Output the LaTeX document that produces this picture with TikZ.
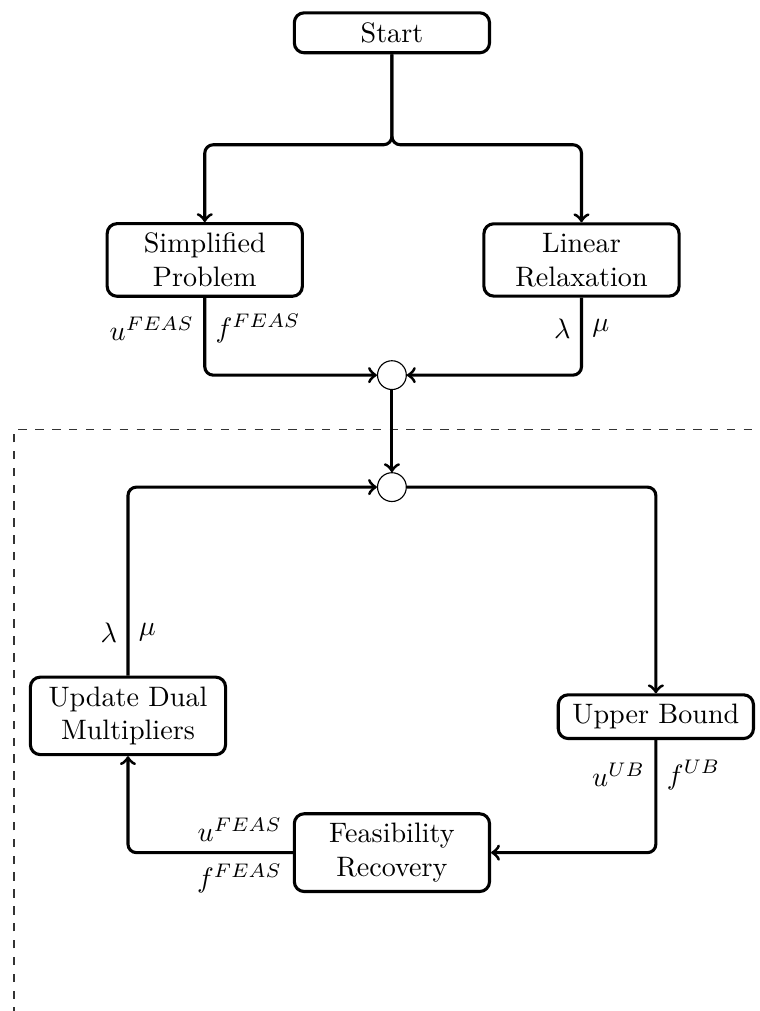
\documentclass[tikz,border=0pt]{standalone}
\usepackage{amssymb}
\usepackage{amsmath}

\tikzset{
  box/.style={draw, rounded corners=3.5pt, line width=1.1pt, align=center,
    minimum width=2.44cm, minimum height=0.5cm, fill=white},
  junct/.style={draw, circle, thin, minimum size=0.36cm, inner sep=0pt, fill=white},
  flow/.style={->, line width=1.1pt, rounded corners=3pt},
}

\begin{document}
\begin{tikzpicture}
  \useasboundingbox (0,0) rectangle (9.49,-12.64);
  % dashed region of the loop
  \draw[dashed, thin, black!80] (0.175,-12.7) -- (0.175,-5.375) -- (9.55,-5.375);

  \node[box] (start) at (4.90,-0.41) {Start};
  \node[box] (simp) at (2.56,-3.25) {Simplified\\Problem};
  \node[box] (lin) at (7.27,-3.25) {Linear\\Relaxation};
  \node[junct] (c1) at (4.90,-4.69) {};
  \node[junct] (c2) at (4.90,-6.09) {};
  \node[box] (ub) at (8.20,-8.96) {Upper Bound};
  \node[box] (feas) at (4.90,-10.66) {Feasibility\\Recovery};
  \node[box] (upd) at (1.60,-8.95) {Update Dual\\Multipliers};
  \coordinate (split) at (4.90,-1.81);

  \draw[flow] (start.south) -- (split) -| (simp.north);
  \draw[flow] (start.south) -- (split) -| (lin.north);
  \draw[flow] (simp.south) |- node[pos=0.2, left] {$u^{FEAS}$}
    node[pos=0.2, right] {$f^{FEAS}$} (c1.west);
  \draw[flow] (lin.south) |- node[pos=0.2, left] {$\lambda$}
    node[pos=0.2, right] {$\mu$} (c1.east);
  \draw[flow] (c1.south) -- (c2.north);
  \draw[flow] (c2.east) -| (ub.north);
  \draw[flow] (ub.south) |- node[pos=0.155, left] {$u^{UB}$}
    node[pos=0.155, right] {$f^{UB}$} (feas.east);
  \draw[flow] (feas.west) -| node[pos=0, above left] {$u^{FEAS}$}
    node[pos=0, below left] {$f^{FEAS}$} (upd.south);
  \draw[flow] (upd.north) |- node[pos=0.115, left] {$\lambda$}
    node[pos=0.115, right] {$\mu$} (c2.west);
\end{tikzpicture}
\end{document}
